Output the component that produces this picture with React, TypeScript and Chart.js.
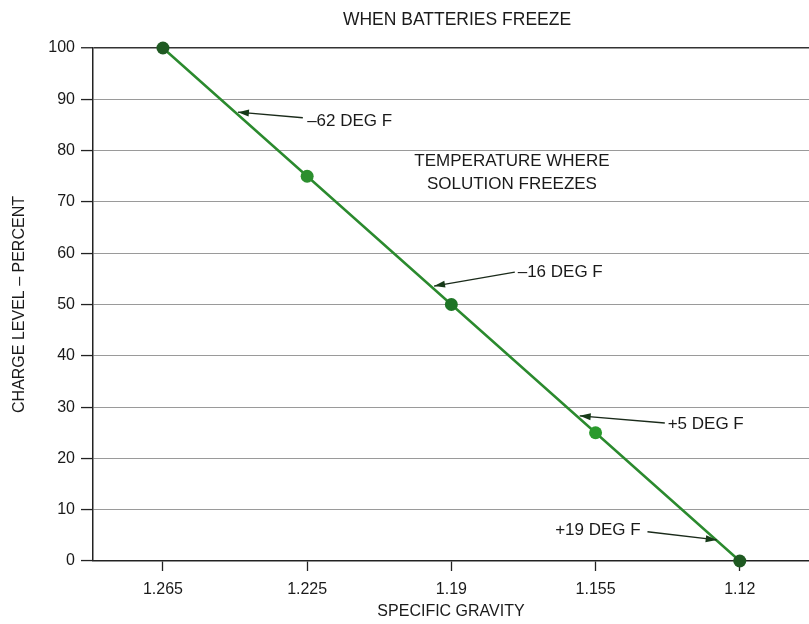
import React, { useEffect, useRef } from "react";
import { Chart, registerables } from "chart.js";

Chart.register(...registerables);

const gravityLabels = ["1.265", "1.225", "1.19", "1.155", "1.12"];
const chargePercent = [100, 75, 50, 25, 0];
const yTicks = [0, 10, 20, 30, 40, 50, 60, 70, 80, 90, 100];
const pointColors = ["#1f5a22", "#2c8f2e", "#1f7526", "#2a9a2c", "#1f5a22"];

const chartTitle = "WHEN BATTERIES FREEZE";
const xTitle = "SPECIFIC GRAVITY";
const yTitle = "CHARGE LEVEL – PERCENT";

// annotation labels (positions given in data units: x = category index, y = percent)
const annotations = [
  { text: "–62 DEG F", tx: 1.0, ty: 85.8, from: [0.97, 86.4], to: [0.52, 87.5] },
  { text: "–16 DEG F", tx: 2.46, ty: 56.3, from: [2.44, 56.3], to: [1.88, 53.6] },
  { text: "+5 DEG F", tx: 3.5, ty: 26.6, from: [3.48, 26.9], to: [2.89, 28.3] },
  { text: "+19 DEG F", tx: 2.72, ty: 5.9, from: [3.36, 5.7], to: [3.84, 4.1] },
];
const noteLines = ["TEMPERATURE WHERE", "SOLUTION FREEZES"];
const notePos = { x: 2.42, y: [78.0, 73.5] };

const FONT = "'Liberation Sans', Arial, Helvetica, sans-serif";

const annotationPlugin = {
  id: "annotationPlugin",
  afterDatasetsDraw(chart: any) {
    const { ctx, chartArea, scales } = chart;
    const xs = scales.x;
    const ys = scales.y;
    ctx.save();
    ctx.fillStyle = "#1a1a1a";
    ctx.font = `17.5px ${FONT}`;
    ctx.textAlign = "center";
    ctx.textBaseline = "middle";
    ctx.fillText(chartTitle, (chartArea.left + chartArea.right) / 2 + 6, 20);

    ctx.font = `17px ${FONT}`;
    noteLines.forEach((t, i) => {
      ctx.fillText(t, xs.getPixelForValue(notePos.x), ys.getPixelForValue(notePos.y[i]));
    });

    annotations.forEach((a) => {
      ctx.textAlign = "left";
      ctx.fillText(a.text, xs.getPixelForValue(a.tx), ys.getPixelForValue(a.ty));
      const x1 = xs.getPixelForValue(a.from[0]);
      const y1 = ys.getPixelForValue(a.from[1]);
      const x2 = xs.getPixelForValue(a.to[0]);
      const y2 = ys.getPixelForValue(a.to[1]);
      ctx.strokeStyle = "#1a2a1a";
      ctx.lineWidth = 1.3;
      ctx.beginPath();
      ctx.moveTo(x1, y1);
      ctx.lineTo(x2, y2);
      ctx.stroke();
      const ang = Math.atan2(y2 - y1, x2 - x1);
      const len = 11;
      const w = 3.5;
      ctx.fillStyle = "#163a18";
      ctx.beginPath();
      ctx.moveTo(x2, y2);
      ctx.lineTo(
        x2 - len * Math.cos(ang) + w * Math.sin(ang),
        y2 - len * Math.sin(ang) - w * Math.cos(ang)
      );
      ctx.lineTo(
        x2 - len * Math.cos(ang) - w * Math.sin(ang),
        y2 - len * Math.sin(ang) + w * Math.cos(ang)
      );
      ctx.closePath();
      ctx.fill();
      ctx.fillStyle = "#1a1a1a";
    });
    ctx.restore();
  },
};

export default function App() {
  const ref = useRef<HTMLCanvasElement | null>(null);
  useEffect(() => {
    if (!ref.current) return;
    const chart = new Chart(ref.current, {
      type: "line",
      data: {
        datasets: [
          {
            data: chargePercent.map((v, i) => ({ x: i, y: v })),
            borderColor: "#2b8a2e",
            borderWidth: 2.5,
            pointRadius: 6.5,
            pointBackgroundColor: pointColors,
            pointBorderColor: pointColors,
            pointBorderWidth: 0,
            tension: 0,
            clip: false,
          },
        ],
      },
      options: {
        animation: false,
        responsive: false,
        maintainAspectRatio: false,
        layout: { autoPadding: false, padding: { top: 48, right: 0, left: 0, bottom: 0 } },
        plugins: {
          legend: { display: false },
          tooltip: { enabled: false },
          title: { display: false },
        },
        scales: {
          x: {
            type: "linear",
            min: -0.485,
            max: 4.48,
            afterBuildTicks: (scale: any) => {
              scale.ticks = gravityLabels.map((_, i) => ({ value: i }));
            },
            afterFit: (scale: any) => {
              scale.height = 63;
              scale.paddingLeft = 0;
              scale.paddingRight = 0;
            },
            ticks: {
              callback: (v: any) => gravityLabels[v as number] ?? "",
              font: { family: FONT, size: 16 },
              color: "#1a1a1a",
              padding: 9,
              maxRotation: 0,
              autoSkip: false,
            },
            grid: {
              drawOnChartArea: false,
              drawTicks: true,
              tickLength: 10,
              tickColor: "#222",
              tickWidth: 1.3,
            },
            border: { display: true, color: "#222", width: 1.5 },
            title: {
              display: true,
              text: xTitle,
              font: { family: FONT, size: 16 },
              color: "#1a1a1a",
              padding: { top: 4, bottom: 3 },
            },
          },
          y: {
            min: 0,
            max: 100,
            afterBuildTicks: (scale: any) => {
              scale.ticks = yTicks.map((v) => ({ value: v }));
            },
            afterFit: (scale: any) => {
              scale.width = 93;
            },
            ticks: {
              font: { family: FONT, size: 16 },
              color: "#1a1a1a",
              padding: 6,
            },
            grid: {
              color: (c: any) => (c.tick && c.tick.value === 100 ? "#333" : "#9a9a9a"),
              lineWidth: (c: any) => (c.tick && c.tick.value === 100 ? 1.5 : 1.1),
              drawTicks: true,
              tickLength: 12,
              tickColor: "#222",
              tickWidth: 1.3,
            },
            border: { display: true, color: "#222", width: 1.5 },
            title: {
              display: true,
              text: yTitle,
              font: { family: FONT, size: 16 },
              color: "#1a1a1a",
              padding: { top: 10, bottom: 4 },
            },
          },
        },
      },
      plugins: [annotationPlugin],
    } as any);
    return () => chart.destroy();
  }, []);
  return (
    <div style={{ position: "absolute", left: 0, top: 0, width: 809, height: 624, background: "#fff" }}>
      <canvas ref={ref} width={809} height={624} style={{ display: "block" }} />
    </div>
  );
}
